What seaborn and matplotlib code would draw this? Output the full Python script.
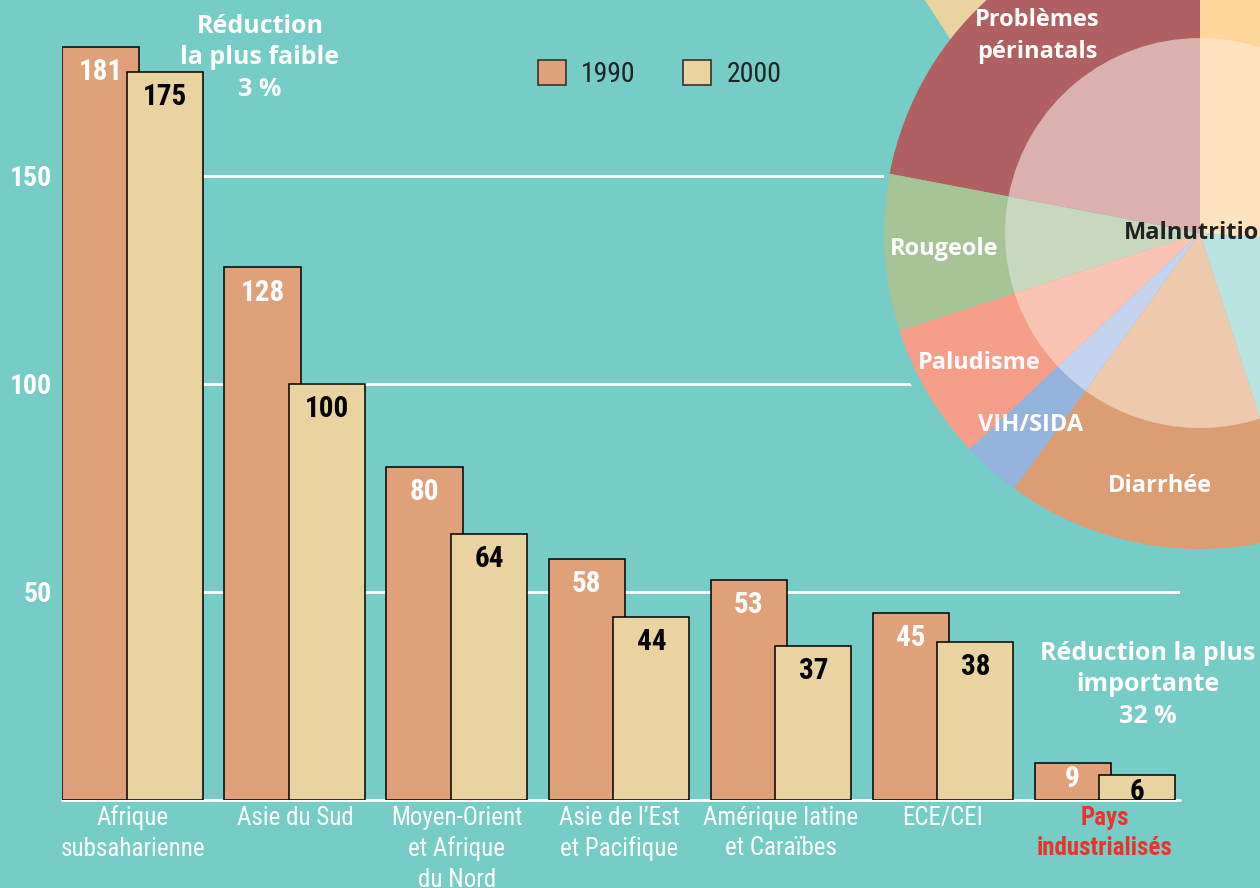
import numpy as np
import pandas as pd
import matplotlib
matplotlib.use('Agg')
import matplotlib.pyplot as plt
from matplotlib.patches import Patch, Circle, Polygon
import seaborn as sns

# data
regions = ['Afrique\nsubsaharienne', 'Asie du Sud', 'Moyen-Orient\net Afrique\ndu Nord',
           'Asie de l\u2019Est\net Pacifique', 'Amérique latine\net Caraïbes', 'ECE/CEI',
           'Pays\nindustrialisés']
u5mr_1990 = [181, 128, 80, 58, 53, 45, 9]
u5mr_2000 = [175, 100, 64, 44, 37, 38, 6]
years = ['1990', '2000']

causes = ['Problèmes\npérinatals', 'Rougeole', 'Paludisme', 'VIH/SIDA', 'Diarrhée',
          'Infections respiratoires', 'Autres']
cause_labels = ['Problèmes\npérinatals', 'Rougeole', 'Paludisme', 'VIH/SIDA', 'Diarrhée', '', '']
cause_share = [22, 8, 7, 3, 15, 19, 26]

teal = '#76CCC6'
c90 = '#E0A079'
c00 = '#E8D3A1'
outer_colors = ['#B06060', '#A7C497', '#F69E8A', '#94B3DD', '#DD9D74', '#8FD3CB', '#FED69A']
inner_colors = ['#DBB1AF', '#C7D8BE', '#FAC4B4', '#C5D4EE', '#EDC9AE', '#B9E3DF', '#FFE2BF']

sns.set_theme(style='white')
narrow = ['Roboto Condensed', 'Archivo Narrow', 'PT Sans Narrow', 'DejaVu Sans']
wide = ['Open Sans', 'DejaVu Sans']
plt.rcParams['font.family'] = narrow

fig = plt.figure(figsize=(12.6, 8.88), dpi=100, facecolor=teal)
ax = fig.add_axes([62/1260, 88/888, 1118/1260, 800/888])
ax.set_facecolor(teal)

df = pd.DataFrame({'region': regions * 2,
                   'year': [years[0]] * 7 + [years[1]] * 7,
                   'value': u5mr_1990 + u5mr_2000})
sns.barplot(data=df, x='region', y='value', hue='year', palette=[c90, c00],
            edgecolor='black', linewidth=1.1, width=0.8, saturation=1,
            legend=False, ax=ax)

# bars overlap slightly in the original
for bar in ax.patches:
    bar.set_x(bar.get_x() - 0.035)
    bar.set_width(0.47)

for cont, col in zip(ax.containers, ['white', 'black']):
    for bar in cont:
        h = bar.get_height()
        ax.annotate(f'{h:.0f}', (bar.get_x() + bar.get_width() / 2, h),
                    xytext=(0, -8 if h > 20 else -2), textcoords='offset points',
                    ha='center', va='top', color=col, fontsize=21, fontweight='bold')

ax.set_xlim(-0.438, 6.463)
ax.set_ylim(0, 192.3)
ax.set_yticks([50, 100, 150])
ax.grid(axis='y', color='white', lw=2)
ax.axhline(0, color='white', lw=2, clip_on=False, zorder=0.5)
ax.set_axisbelow(True)
for s in ax.spines.values():
    s.set_visible(False)
ax.set_xlabel('')
ax.set_ylabel('')
ax.tick_params(axis='y', length=0, pad=7, labelsize=20, labelcolor='white')
ax.tick_params(axis='x', length=0, pad=4, labelsize=18, labelcolor='white')
for t in ax.get_yticklabels():
    t.set_fontweight('bold')
for t in ax.get_xticklabels():
    t.set_linespacing(1.34)
last = ax.get_xticklabels()[-1]
last.set_color('#E8352B')
last.set_fontweight('bold')

handles = [Patch(fc=c90, ec='#333333', lw=1.2, label=years[0]),
           Patch(fc=c00, ec='#333333', lw=1.2, label=years[1])]
ax.legend(handles=handles, ncol=2, frameon=False, loc='upper left',
          bbox_to_anchor=(538/1260, 1 - 60/888), bbox_transform=fig.transFigure,
          handlelength=1.0, handleheight=1.0, handletextpad=0.55, columnspacing=1.72,
          borderpad=0, borderaxespad=0, fontsize=20, labelcolor='#222222')

fig.text(260/1260, 1 - 14/888, 'Réduction\nla plus faible\n3 %', ha='center', va='top',
         color='white', fontsize=18, fontweight='bold', family=wide, linespacing=1.34)
fig.text(1148/1260, 1 - 641/888, 'Réduction la plus\nimportante\n32 %', ha='center', va='top',
         color='white', fontsize=18, fontweight='bold', family=wide, linespacing=1.34)

# pie of causes, cut by the page edge
pax = fig.add_axes([(1200 - 316)/1260, (888 - 233 - 316)/888, 632/1260, 632/888])
pax.add_patch(Circle((0, 0), 1.03, color=teal, zorder=1))
pax.add_patch(Polygon([(-0.886, 0.76), (-0.785, 0.605), (-0.6, 0.76)],
                      closed=True, color=c00, lw=0, zorder=1.5))
wedges, _ = pax.pie(cause_share, colors=outer_colors, startangle=90, radius=1,
                    wedgeprops=dict(linewidth=0, zorder=2))
pax.pie(cause_share, colors=inner_colors, startangle=90, radius=0.617,
        wedgeprops=dict(linewidth=0, zorder=3))
for w, lab in zip(wedges, cause_labels):
    a = np.deg2rad((w.theta1 + w.theta2) / 2)
    pax.text(0.81 * np.cos(a), 0.81 * np.sin(a), lab, ha='center', va='center',
             color='white', fontsize=17, fontweight='bold', family=wide,
             linespacing=1.45, zorder=5)
pax.text(-0.24, 0.0, 'Malnutrition', ha='left', va='center', color='#222222',
         fontsize=17, fontweight='bold', family=wide, zorder=5)
pax.set_xlim(-1, 1)
pax.set_ylim(-1, 1)
pax.set_aspect('equal')
pax.axis('off')

fig.savefig('out.png', dpi=100, facecolor=teal)
